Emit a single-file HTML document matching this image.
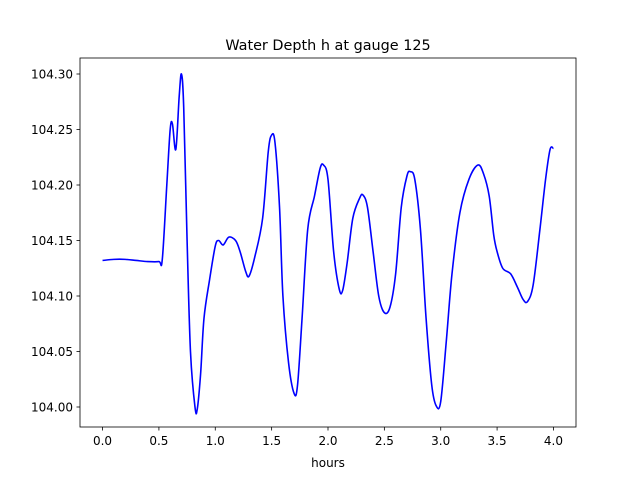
<!DOCTYPE html>
<html><head><meta charset="utf-8"><style>
body{margin:0;background:#fff;}
svg text{font-family:"DejaVu Sans","Liberation Sans",sans-serif;}
</style></head><body>
<svg id="chart" width="640" height="480" xmlns="http://www.w3.org/2000/svg">
<rect width="640" height="480" fill="#fff"/>
<text x="328" y="50" text-anchor="middle" font-size="14.4">Water Depth h at gauge 125</text>
<g id="xt"></g>
<g id="yt"></g>
<path id="line" fill="none" stroke="#0000ff" stroke-width="1.6"/>
<rect x="80" y="58" width="496" height="369" fill="none" stroke="#000" stroke-width="0.8"/>
<text x="328" y="467" text-anchor="middle" font-size="12">hours</text>
</svg>
<script>
const times=[0,0.1,0.2,0.3,0.4,0.5,0.53,0.57,0.6,0.62,0.65,0.68,0.70,0.72,0.75,0.78,0.82,0.84,0.87,0.9,0.95,1.0,1.03,1.07,1.12,1.18,1.22,1.27,1.30,1.35,1.42,1.47,1.5,1.53,1.57,1.6,1.65,1.7,1.73,1.77,1.82,1.88,1.93,1.96,2.0,2.05,2.1,2.13,2.17,2.22,2.28,2.31,2.35,2.4,2.45,2.5,2.55,2.6,2.65,2.7,2.73,2.77,2.82,2.87,2.92,2.96,3.0,3.05,3.1,3.17,3.25,3.33,3.38,3.43,3.47,3.5,3.55,3.62,3.68,3.73,3.77,3.82,3.88,3.93,3.97,4.0];
const depths=[104.132,104.133,104.133,104.132,104.131,104.131,104.133,104.20,104.25,104.255,104.232,104.28,104.300,104.27,104.15,104.05,104.00,103.998,104.03,104.08,104.115,104.145,104.150,104.146,104.153,104.150,104.14,104.122,104.118,104.135,104.17,104.23,104.245,104.238,104.18,104.10,104.04,104.012,104.02,104.08,104.16,104.19,104.215,104.218,104.205,104.14,104.106,104.105,104.13,104.17,104.188,104.191,104.18,104.14,104.10,104.085,104.09,104.12,104.18,104.208,104.212,104.205,104.16,104.08,104.02,104.001,104.005,104.06,104.12,104.175,104.205,104.218,104.21,104.19,104.155,104.14,104.125,104.12,104.108,104.097,104.095,104.11,104.16,104.205,104.232,104.233];
const xTicks=[0,0.5,1,1.5,2,2.5,3,3.5,4];
const xTickLabels=["0.0","0.5","1.0","1.5","2.0","2.5","3.0","3.5","4.0"];
const yTicks=[104.00,104.05,104.10,104.15,104.20,104.25,104.30];
const yTickLabels=["104.00","104.05","104.10","104.15","104.20","104.25","104.30"];
const NS="http://www.w3.org/2000/svg";
const X=v=>80+(v+0.2)/4.4*496;
const Y=v=>407-(v-104.0)*1110;
const xt=document.getElementById('xt'),yt=document.getElementById('yt');
xTicks.forEach((t,i)=>{
 const l=document.createElementNS(NS,'line');
 
 
 l.setAttribute('x1',X(t));l.setAttribute('x2',X(t));l.setAttribute('y1',427);l.setAttribute('y2',430.5);l.setAttribute('stroke','#000');l.setAttribute('stroke-width','0.8');xt.appendChild(l);
 const tx=document.createElementNS(NS,'text');
 
 
 tx.setAttribute('x',X(t));tx.setAttribute('y',445);tx.setAttribute('text-anchor','middle');tx.setAttribute('font-size','12');tx.textContent=xTickLabels[i];xt.appendChild(tx);
});
yTicks.forEach((t,i)=>{
 const l=document.createElementNS(NS,'line');
 
 
 l.setAttribute('x1',76.5);l.setAttribute('x2',80);l.setAttribute('y1',Y(t));l.setAttribute('y2',Y(t));l.setAttribute('stroke','#000');l.setAttribute('stroke-width','0.8');yt.appendChild(l);
 const tx=document.createElementNS(NS,'text');
 
 
 tx.setAttribute('x',73);tx.setAttribute('y',Y(t)+4.5);tx.setAttribute('text-anchor','end');tx.setAttribute('font-size','12');tx.textContent=yTickLabels[i];yt.appendChild(tx);
});
const pts=times.map((t,i)=>[X(t),Y(depths[i])]);
let d='M'+pts[0][0]+','+pts[0][1];
for(let i=0;i<pts.length-1;i++){
 const p0=pts[Math.max(0,i-1)],p1=pts[i],p2=pts[i+1],p3=pts[Math.min(pts.length-1,i+2)];
 const c1=[p1[0]+(p2[0]-p0[0])/6,p1[1]+(p2[1]-p0[1])/6];
 const c2=[p2[0]-(p3[0]-p1[0])/6,p2[1]-(p3[1]-p1[1])/6];
 d+=` C${c1[0]},${c1[1]} ${c2[0]},${c2[1]} ${p2[0]},${p2[1]}`;
}
document.getElementById('line').setAttribute('d',d);
</script>
</body></html>
